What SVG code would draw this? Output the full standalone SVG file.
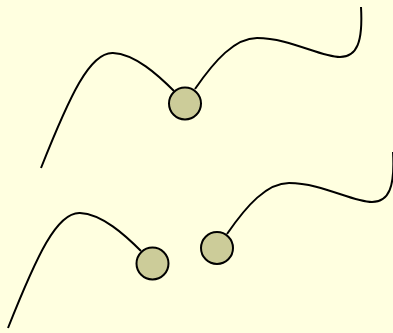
<svg xmlns="http://www.w3.org/2000/svg" width="393" height="333" viewBox="0 0 393 333">
<style>
.bg{fill:#ffffe0}
.node{fill:#cccc99;stroke:#000;stroke-width:2}
.edge{fill:none;stroke:#000;stroke-width:2}
</style>
<defs>
<path id="leftCurve" d="M41,168 C70,95 90,52 113,53 C135,54 158,75 174,91"/>
<path id="rightCurve" d="M195,89 C215,60 235,38 257,38 C290,38 320,57 340,57 C357,57 363,42 361,7"/>
</defs>
<rect class="bg" x="0" y="0" width="393" height="333"/>
<g id="connectors">
<use href="#leftCurve" class="edge"/>
<use href="#rightCurve" class="edge"/>
<use href="#leftCurve" class="edge" transform="translate(-33,160)"/>
<use href="#rightCurve" class="edge" transform="translate(32,145)"/>
</g>
<g id="node-top"><circle class="node" cx="185" cy="103.5" r="16"/></g>
<g id="node-bottom-left"><circle class="node" cx="152.5" cy="263.5" r="16"/></g>
<g id="node-bottom-right"><circle class="node" cx="217" cy="248" r="16"/></g>
</svg>
